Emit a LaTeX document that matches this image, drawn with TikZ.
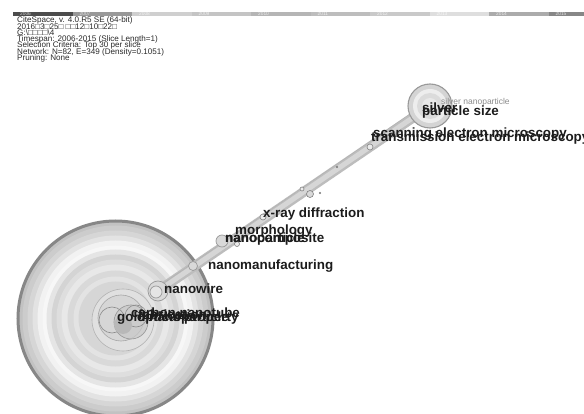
\documentclass[tikz,border=0pt]{standalone}
\usepackage{fontspec}
\setmainfont{Liberation Sans}
\usetikzlibrary{calc}
\definecolor{kwtext}{HTML}{1C1C1C}
\definecolor{hdrtext}{HTML}{2A2A2A}
\definecolor{bandout}{HTML}{BDBDBD}
\definecolor{bandin}{HTML}{D6D6D6}
\begin{document}
\begin{tikzpicture}[x=1pt,y=-1pt,
  kw/.style={anchor=west, inner sep=0pt, text=kwtext,
             font=\fontsize{13.4}{14}\selectfont\bfseries},
  kwsmall/.style={anchor=west, inner sep=0pt, text=black!45,
             font=\fontsize{8.5}{9}\selectfont},
  hdr/.style={anchor=west, inner sep=0pt, text=hdrtext,
             font=\fontsize{8.1}{8.5}\selectfont},
  yr/.style={anchor=west, inner sep=0pt, text=white, opacity=0.75,
             font=\fontsize{4.8}{5}\selectfont},
  term/.style={circle, draw=black!40, fill=black!15, inner sep=0pt, line width=0.7pt},
  ring/.style={circle, draw=black!50, fill=black!8, inner sep=0pt, line width=0.6pt},
  dotnode/.style={circle, fill=black!55, inner sep=0pt, minimum size=2.4pt},
]
\useasboundingbox (0,0) rectangle (584,414);
\fill[white] (0,0) rectangle (584,414);

% ---- timeline bar, one slice per year ----
\foreach \i/\yy/\g in {0/2006/70, 1/2007/40, 2/2008/19, 3/2009/23, 4/2010/29,
                       5/2011/26, 6/2012/21, 7/2013/13, 8/2014/33, 9/2015/47} {
  \pgfmathsetmacro{\xs}{13+59.5*\i}
  \pgfmathsetmacro{\xe}{min(\xs+59.5,584)}
  \fill[black!\g] (\xs,11.8) rectangle (\xe,15.8);
  \node[yr] (year\i) at (\xs+7,13.8) {\yy};
}

% ---- header ----
\node[hdr] (h1) at (17,20.6) {CiteSpace, v. 4.0.R5 SE (64-bit)};
\node[hdr] (h2) at (17,26.6) {2016□3□25□ □□12□10□22□};
\node[hdr] (h3) at (17,32.6) {G:\textbackslash□□□□\textbackslash4};
\node[hdr] (h4) at (17,39.3) {Timespan: 2006-2015 (Slice Length=1)};
\node[hdr] (h5) at (17,45.8) {Selection Criteria: Top 30 per slice};
\node[hdr] (h6) at (17,52.3) {Network: N=82, E=349 (Density=0.1051)};
\node[hdr] (h7) at (17,58.8) {Pruning: None};

% ---- large cluster: concentric citation rings ----
\coordinate (hub) at (115.5,318.5);
\fill[black!24] (hub) circle[radius=98pt];
\draw[black!47, line width=3pt] (hub) circle[radius=97.5pt];
\foreach \r/\g in {93/20, 88/16, 83/11, 78/5, 73/3, 69/10, 64/17, 59/13,
                   54/9, 48/15, 42/11, 37/16} {
  \fill[black!\g] (hub) circle[radius=\r pt];
}
\draw[black!30, line width=0.6pt, fill=black!12] (123,320) circle[radius=31pt];
\draw[black!35, line width=0.6pt, fill=black!16] (121,318) circle[radius=23pt];
\draw[black!42, line width=0.6pt, fill=black!21, fill opacity=0.7] (131,322) circle[radius=17pt];
\draw[black!45, line width=0.6pt] (112,320) circle[radius=13pt];
\draw[black!45, line width=0.6pt] (136,316) circle[radius=11pt];
\fill[black!28] (123,325) circle[radius=9pt];

% ---- main link between the two clusters ----
\coordinate (nwc) at (158,291);
\coordinate (agc) at (430,106);
\draw[bandout, line width=10pt] (nwc) -- (agc);
\draw[bandin, line width=5pt] (nwc) -- (agc);
\draw[black!30, line width=0.4pt] ($(nwc)+(0,-4)$) -- ($(agc)+(-4,-3)$);

% ---- term nodes ----
\node[term, minimum size=20pt] (nanowire) at (nwc) {};
\node[term, minimum size=12pt, fill=black!10] (nanowirein) at (156,292) {};
\node[term, minimum size=9pt] (manuf) at (193,266) {};
\node[term, minimum size=12pt] (ncomp) at (222,241) {};
\node[ring, minimum size=5pt] (npart) at (237,244) {};
\node[ring, minimum size=6pt] (xrd) at (263,217) {};
\node[ring, minimum size=4pt] (n1) at (302,189) {};
\node[ring, minimum size=7pt, fill=black!15] (n2) at (310,194) {};
\node[dotnode] (n3) at (320,193) {};
\node[dotnode] (n4) at (337,167) {};
\node[ring, minimum size=6pt] (sem) at (370,147) {};

% ---- upper cluster ----
\node[circle, draw=black!40, fill=black!17, line width=1.1pt, inner sep=0pt,
      minimum size=44pt] (silver) at (agc) {};
\fill[black!7] (agc) circle[radius=17pt];
\fill[black!14] (agc) circle[radius=13pt];
\fill[black!9] (agc) circle[radius=8pt];

% ---- labels ----
\node[kwsmall] (lbagnp) at (441,102.5) {silver nanoparticle};
\node[kw] (lbsilver) at (422,107.5) {silver};
\node[kw] (lbsize) at (422,112) {particle size};
\node[kw] (lbsem) at (373,134) {scanning electron microscopy};
\node[kw] (lbtem) at (371,138) {transmission electron microscopy};
\node[kw] (lbxrd) at (263,214) {x-ray diffraction};
\node[kw] (lbmorph) at (235,231) {morphology};
\node[kw] (lbnpart) at (225,239) {nanoparticle};
\node[kw] (lbncomp) at (225,239.5) {nanocomposite};
\node[kw] (lbmanuf) at (208,266) {nanomanufacturing};
\node[kw] (lbwire) at (164,289) {nanowire};
\node[kw] (lbcnt) at (131,312.5) {carbon nanotube};
\node[kw] (lbfab) at (138,315) {fabrication};
\node[kw] (lbgold) at (117,318) {gold nanoparticle};
\node[kw] (lbopt) at (137,318.5) {optical property};
\end{tikzpicture}
\end{document}
